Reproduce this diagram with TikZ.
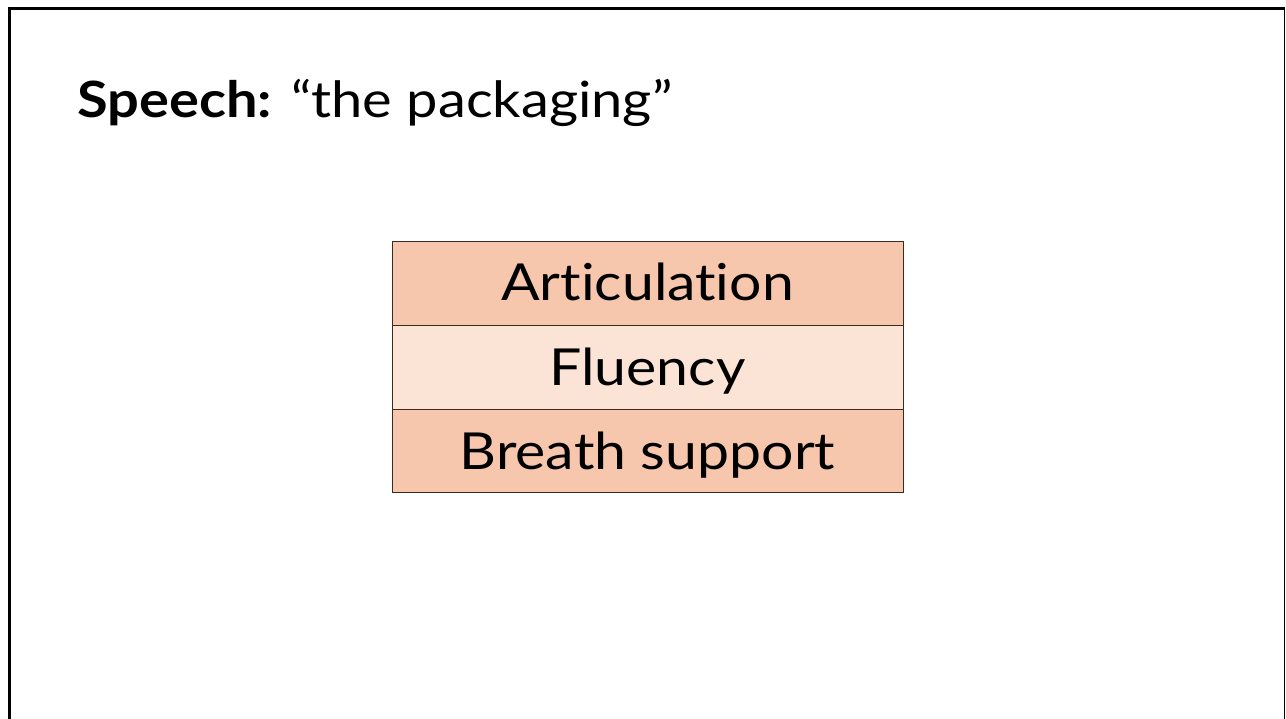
\documentclass[tikz,border=0pt]{standalone}
\usepackage{fontspec}
\setmainfont{Lato}[Ligatures={NoCommon},FakeStretch=1.12]
\definecolor{peach}{HTML}{F6C6AD}
\definecolor{peachlight}{HTML}{FBE3D6}
\definecolor{cellline}{HTML}{3A2A22}
\begin{document}
\begin{tikzpicture}[x=1pt,y=-1pt,
  cell/.style={draw=cellline,line width=1.2pt},
  celltext/.style={anchor=base,inner sep=0pt,font=\fontsize{51}{58}\selectfont},
  title/.style={anchor=base west,inner sep=0pt,font=\fontsize{50}{57}\selectfont}]
\useasboundingbox (0,0) rectangle (1286,719);
\fill[white] (0,0) rectangle (1286,719);
% slide frame
\draw[line width=3pt] (9.5,719) -- (9.5,8.5) -- (1284,8.5);
\draw[line width=1.2pt] (1284.5,7) -- (1284.5,719);
% heading
\node[title] (head) at (77,118) {\textbf{Speech:} “the packaging”};
% stacked layers
\filldraw[cell,fill=peach] (392.5,241.5) rectangle (903.5,325.5);
\filldraw[cell,fill=peachlight] (392.5,325.5) rectangle (903.5,409.5);
\filldraw[cell,fill=peach] (392.5,409.5) rectangle (903.5,492.5);
\node[celltext] (art) at (647.5,301) {Articulation};
\node[celltext] (flu) at (647.5,386) {Fluency};
\node[celltext] (bre) at (647.5,469.5) {Breath support};
\end{tikzpicture}
\end{document}
